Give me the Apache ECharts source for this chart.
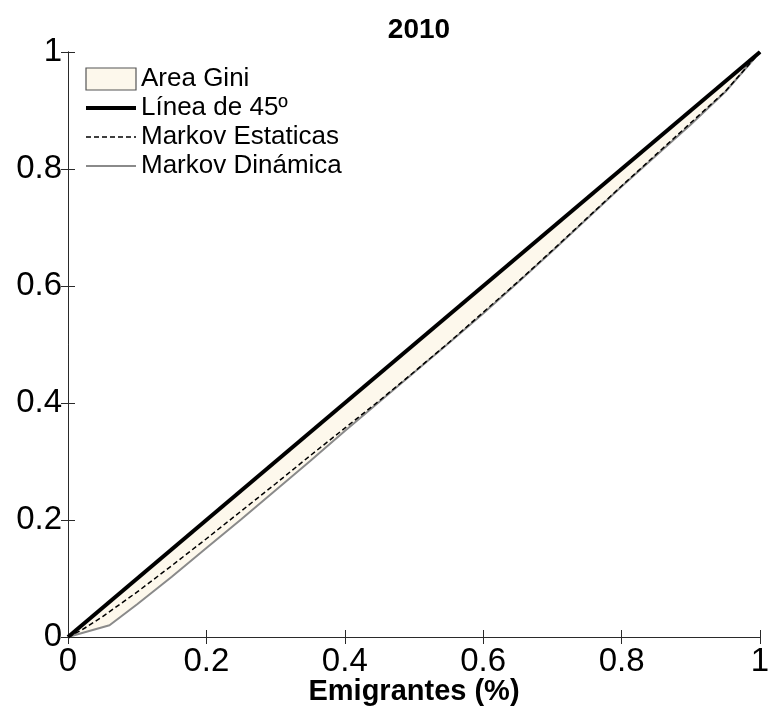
<!DOCTYPE html>
<html>
<head>
<meta charset="utf-8">
<script src="https://cdn.jsdelivr.net/npm/echarts@6/dist/echarts.min.js"></script>
<style>html,body{margin:0;padding:0;background:#fff;}#c{width:768px;height:708px;}</style>
</head>
<body>
<div id="c"></div>
<script>
// ---- data ----
const titleText = '2010';
const xAxisName = 'Emigrantes (%)';
const tickValues = [0, 0.2, 0.4, 0.6, 0.8, 1];
const diagX = [0, 1];
const diagY = [0, 1];
const dinX = [0, 0.06, 0.1, 0.15, 0.2, 0.25, 0.3, 0.35, 0.4, 0.45, 0.5, 0.55, 0.6, 0.65, 0.7, 0.75, 0.8, 0.85, 0.9, 0.95, 1];
const dinY = [0, 0.02, 0.056, 0.103, 0.152, 0.201, 0.251, 0.301, 0.352, 0.402, 0.452, 0.502, 0.553, 0.606, 0.66, 0.715, 0.77, 0.823, 0.876, 0.932, 1];
const estX = [0, 0.02, 0.05, 0.1, 0.15, 0.2, 0.25, 0.3, 0.35, 0.4, 0.45, 0.5, 0.55, 0.6, 0.65, 0.7, 0.75, 0.8, 0.85, 0.9, 0.95, 1];
const estY = [0, 0.012, 0.035, 0.077, 0.122, 0.168, 0.215, 0.262, 0.31, 0.357, 0.404, 0.453, 0.503, 0.555, 0.607, 0.661, 0.716, 0.771, 0.825, 0.879, 0.933, 1];
const names = ['Area Gini', 'Línea de 45º', 'Markov Estaticas', 'Markov Dinámica'];

// ---- build ----
const FONT = "'Liberation Sans', Arial, sans-serif";
const AXC = '#2a2a2a';
const CREAM = '#FDF8EC';
const GRAY = '#8a8a8a';
const pair = (xs, ys) => xs.map((x, i) => [x, ys[i]]);

const commonAxis = {
  min: 0, max: 1, interval: 0.2,
  axisLine: { show: true, lineStyle: { color: AXC, width: 1 } },
  axisTick: { show: true, inside: true, length: 7, lineStyle: { color: AXC, width: 1 } },
  splitLine: { show: false }
};

const chart = echarts.init(document.getElementById('c'), null, { renderer: 'canvas' });
chart.setOption({
  animation: false,
  backgroundColor: '#fff',
  title: {
    text: titleText, left: 414, top: 11, textAlign: 'center',
    textStyle: { fontFamily: FONT, fontSize: 28, fontWeight: 'bold', color: '#000' }
  },
  grid: { left: 68, right: 8, top: 52, bottom: 71, containLabel: false, outerBoundsMode: 'none' },
  legend: {
    orient: 'vertical', left: 79, top: 61, itemWidth: 50, itemHeight: 22, itemGap: 3,
    selectedMode: false,
    textStyle: { fontFamily: FONT, fontSize: 26, color: '#000' },
    data: [
      { name: names[0], icon: 'rect', itemStyle: { color: CREAM, borderColor: '#555', borderWidth: 1.2 } },
      { name: names[1], itemStyle: { opacity: 0 }, lineStyle: { width: 4, color: '#000', opacity: 1 } },
      { name: names[2], itemStyle: { opacity: 0 }, lineStyle: { width: 1.5, color: '#000', type: [5, 3], opacity: 1 } },
      { name: names[3], itemStyle: { opacity: 0 }, lineStyle: { width: 2, color: GRAY, opacity: 1 } }
    ]
  },
  xAxis: [
    Object.assign({}, commonAxis, {
      type: 'value', position: 'bottom',
      name: xAxisName, nameLocation: 'middle', nameGap: 40, nameMoveOverlap: false,
      nameTextStyle: { fontFamily: FONT, fontSize: 29, fontWeight: 'bold', color: '#000', verticalAlign: 'top' },
      axisLabel: { show: true, margin: 8, fontFamily: FONT, fontSize: 33, color: '#000' }
    }),
    Object.assign({}, commonAxis, { type: 'value', position: 'top', axisLabel: { show: false } })
  ],
  yAxis: [
    Object.assign({}, commonAxis, {
      type: 'value', position: 'left',
      axisLabel: { show: true, margin: 6, fontFamily: FONT, fontSize: 33, color: '#000' }
    }),
    Object.assign({}, commonAxis, { type: 'value', position: 'right', axisLabel: { show: false } })
  ],
  series: [
    { name: names[0], type: 'custom', coordinateSystem: 'cartesian2d', silent: true, z: 1,
      itemStyle: { color: CREAM },
      data: [[0, 0]],
      renderItem: function (params, api) {
        const upper = diagX.map((x, i) => api.coord([x, diagY[i]]));
        const lower = dinX.map((x, i) => api.coord([x, dinY[i]])).reverse();
        return { type: 'polygon', shape: { points: upper.concat(lower) }, style: { fill: CREAM, stroke: null } };
      }
    },
    { name: names[3], type: 'line', data: pair(dinX, dinY), symbol: 'none', silent: true,
      itemStyle: { color: GRAY }, lineStyle: { color: GRAY, width: 2 }, z: 3 },
    { name: names[2], type: 'line', data: pair(estX, estY), symbol: 'none', silent: true,
      itemStyle: { color: '#000' }, lineStyle: { color: '#000', width: 1.5, type: [5, 3] }, z: 4 },
    { name: names[1], type: 'line', data: pair(diagX, diagY), symbol: 'none', silent: true,
      itemStyle: { color: '#000' }, lineStyle: { color: '#000', width: 4 }, z: 5 }
  ]
});
</script>
</body>
</html>
